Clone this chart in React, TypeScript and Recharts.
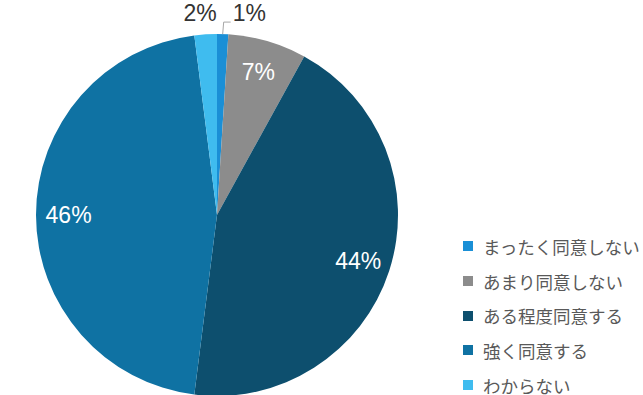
import React from 'react';
import { PieChart, Pie, Cell, Legend } from 'recharts';

const categories = ['まったく同意しない', 'あまり同意しない', 'ある程度同意する', '強く同意する', 'わからない'];
const values = [1, 7, 44, 46, 2];
const colors = ['#1a8fd6', '#8c8c8c', '#0d4f6e', '#0f72a3', '#3fbcef'];

const data = categories.map((name, i) => ({ name, value: values[i] }));

const RADIAN = Math.PI / 180;
const FONT = 'Liberation Sans, Arial, sans-serif';

const renderLabel = (props: any) => {
  const { cx, cy, midAngle, outerRadius, percent } = props;
  const pct = `${Math.round(percent * 100)}%`;
  if (percent >= 0.05) {
    const r = outerRadius * 0.82;
    const x = cx + r * Math.cos(-midAngle * RADIAN);
    const y = cy + r * Math.sin(-midAngle * RADIAN);
    return (
      <text x={x} y={y} fill="#ffffff" fontSize={23} fontFamily={FONT} textAnchor="middle" dominantBaseline="central">
        {pct}
      </text>
    );
  }
  const sx = cx + outerRadius * Math.cos(-midAngle * RADIAN);
  const sy = cy + outerRadius * Math.sin(-midAngle * RADIAN);
  const right = Math.cos(-midAngle * RADIAN) > 0;
  if (right) {
    const mx = sx + 1;
    const my = sy - 12;
    const ex = sx + 8;
    return (
      <g>
        <polyline points={`${sx},${sy} ${mx},${my} ${ex},${my}`} fill="none" stroke="#a6a6a6" strokeWidth={1} />
        <text x={sx + 10} y={sy - 21} fill="#333" fontSize={23} fontFamily={FONT} textAnchor="start" dominantBaseline="central">
          {pct}
        </text>
      </g>
    );
  }
  return (
    <text x={sx + 11} y={sy - 21} fill="#333" fontSize={23} fontFamily={FONT} textAnchor="end" dominantBaseline="central">
      {pct}
    </text>
  );
};

const renderLegend = () => (
  <div style={{ fontFamily: '"Noto Sans CJK JP", sans-serif', fontSize: 17.5, color: '#595959' }}>
    {data.map((d, i) => (
      <div key={d.name} style={{ display: 'flex', alignItems: 'center', height: 34.7, whiteSpace: 'nowrap' }}>
        <span style={{ display: 'inline-block', width: 10, height: 10, background: colors[i], marginRight: 10 }} />
        <span>{d.name}</span>
      </div>
    ))}
  </div>
);

export default function App() {
  return (
    <div style={{ position: 'absolute', left: 0, top: 0, width: 643, height: 395, background: '#fff', overflow: 'hidden' }}>
      <PieChart width={643} height={395} margin={{ top: 0, right: 0, bottom: 0, left: 0 }}>
        <Pie
          data={data}
          dataKey="value"
          nameKey="name"
          cx={217}
          cy={215}
          outerRadius={181}
          startAngle={90}
          endAngle={-270}
          stroke="none"
          label={renderLabel}
          labelLine={false}
          isAnimationActive={false}
        >
          {data.map((d, i) => (
            <Cell key={d.name} fill={colors[i]} />
          ))}
        </Pie>
        <Legend content={renderLegend} wrapperStyle={{ position: 'absolute', left: 463, top: 229, width: 200 }} />
      </PieChart>
    </div>
  );
}
